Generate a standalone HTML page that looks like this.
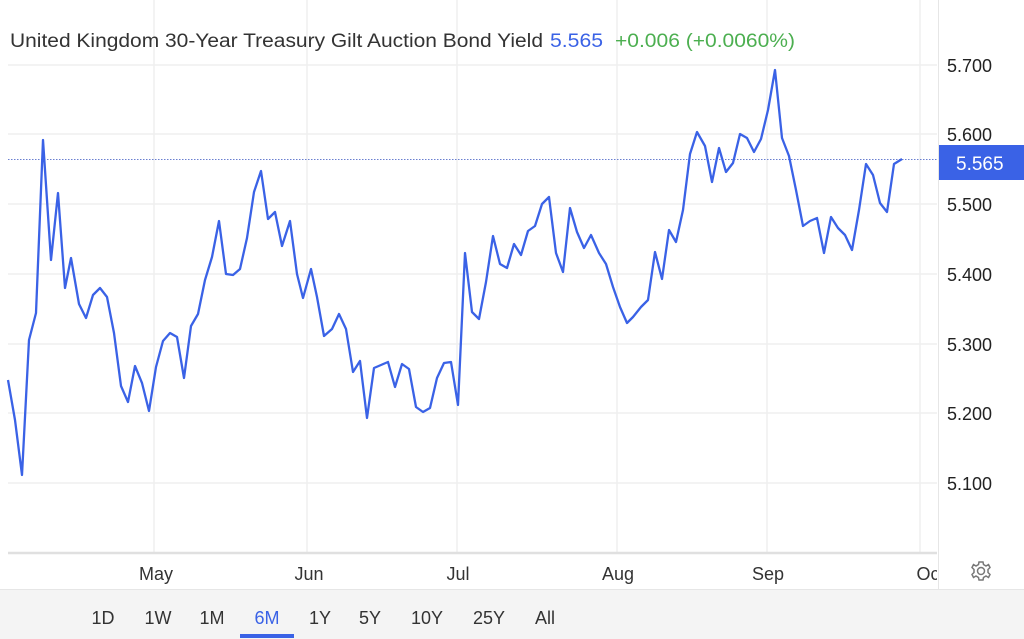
<!DOCTYPE html>
<html><head><meta charset="utf-8"><style>
body{margin:0;width:1024px;height:639px;overflow:hidden;background:#fff;font-family:"Liberation Sans",Arial,sans-serif;}
</style></head><body>
<svg width="1024" height="639" viewBox="0 0 1024 639" xmlns="http://www.w3.org/2000/svg" style="position:absolute;left:0;top:0">
<rect x="0" y="589" width="1024" height="50" fill="#f4f4f4"/>
<line x1="0" y1="589.5" x2="1024" y2="589.5" stroke="#e6e6e6"/>
<g stroke="#efefef" stroke-width="1.5">
<line x1="8" y1="65" x2="937" y2="65"/><line x1="8" y1="134" x2="937" y2="134"/>
<line x1="8" y1="204" x2="937" y2="204"/><line x1="8" y1="274" x2="937" y2="274"/>
<line x1="8" y1="344" x2="937" y2="344"/><line x1="8" y1="413" x2="937" y2="413"/>
<line x1="8" y1="483" x2="937" y2="483"/>
<line x1="154" y1="0" x2="154" y2="553"/><line x1="307" y1="0" x2="307" y2="553"/>
<line x1="457" y1="0" x2="457" y2="553"/><line x1="617" y1="0" x2="617" y2="553"/>
<line x1="767" y1="0" x2="767" y2="553"/><line x1="920" y1="0" x2="920" y2="553"/>
</g>
<line x1="8" y1="553" x2="937" y2="553" stroke="#e0e0e0" stroke-width="2.5"/>
<line x1="938.5" y1="0" x2="938.5" y2="589" stroke="#e6e6e6"/>
<line x1="8" y1="159.5" x2="938" y2="159.5" stroke="#6a7fd0" stroke-width="1" stroke-dasharray="1.5,1.5"/>
<polyline fill="none" stroke="#3a62e6" stroke-width="2.3" stroke-linejoin="round" points="8,380 15,420 22,475 29,340 36,313 43,140 51,260 58,193 65,288 71,258 79,304 86,318 93,295 100,288 107,297 114,333 121,386 128,402 135,366 142,383 149,411 156,367 163,341 170,333 177,337 184,378 191,326 198,314 205,280 212,257 219,221 226,274 233,275 240,269 247,238 254,192 261,171 268,219 275,212 282,246 290,221 297,274 303,298 311,269 317,297 324,336 332,329 339,314 346,329 353,372 360,361 367,418 374,368 381,365 388,362 395,387 402,364 409,369 416,407 423,412 430,408 437,378 444,363 451,362 458,405 465,253 472,312 479,319 486,282 493,236 500,264 507,268 514,244 521,255 528,231 535,226 542,204 549,197 556,253 563,272 570,208 577,232 584,248 591,235 599,253 606,264 613,287 620,307 627,323 633,317 641,307 648,300 655,252 662,279 669,230 676,242 683,210 690,154 697,132 705,146 712,182 719,148 726,172 733,163 740,134 747,138 754,152 761,139 768,110 775,70 782,138 789,156 796,190 803,226 810,221 817,218 824,253 831,217 838,228 845,235 852,250 859,210 866,164 873,175 880,203 887,212 894,164 902,159"/>
<g font-size="19">
<text x="10" y="47" fill="#333" textLength="533" lengthAdjust="spacingAndGlyphs">United Kingdom 30-Year Treasury Gilt Auction Bond Yield</text>
<text x="550" y="47" fill="#3a62e6" textLength="53" lengthAdjust="spacingAndGlyphs">5.565</text>
<text x="615" y="47" fill="#4caf50" textLength="180" lengthAdjust="spacingAndGlyphs">+0.006 (+0.0060%)</text>
</g>
<g font-size="18" fill="#222">
<text x="947" y="72">5.700</text><text x="947" y="141">5.600</text>
<text x="947" y="211">5.500</text><text x="947" y="281">5.400</text>
<text x="947" y="351">5.300</text><text x="947" y="420">5.200</text>
<text x="947" y="490">5.100</text>
</g>
<rect x="939" y="145" width="85" height="35" fill="#3a62e6"/>
<text x="956" y="170" font-size="19" fill="#fff">5.565</text>
<g font-size="18" fill="#333" text-anchor="middle">
<text x="156" y="580">May</text><text x="309" y="580">Jun</text>
<text x="458" y="580">Jul</text><text x="618" y="580">Aug</text>
<text x="768" y="580">Sep</text><text x="928" y="580">Oc</text>
</g>
<rect x="937" y="555" width="87" height="33" fill="#fff"/>
<line x1="938.5" y1="555" x2="938.5" y2="589" stroke="#e6e6e6"/>
<g transform="translate(981,571)" fill="none" stroke="#777" stroke-width="1.5">
<circle r="3.5"/>
<path d="M-2,-9 L2,-9 L2.5,-6.5 L5,-5 L7.5,-6.5 L9,-3.5 L7,-1.5 L7,1.5 L9,3.5 L7.5,6.5 L5,5 L2.5,6.5 L2,9 L-2,9 L-2.5,6.5 L-5,5 L-7.5,6.5 L-9,3.5 L-7,1.5 L-7,-1.5 L-9,-3.5 L-7.5,-6.5 L-5,-5 L-2.5,-6.5 Z"/>
</g>
<g font-size="18" fill="#333" text-anchor="middle">
<text x="103" y="624">1D</text><text x="158" y="624">1W</text><text x="212" y="624">1M</text>
<text x="267" y="624" fill="#3a62e6">6M</text><text x="320" y="624">1Y</text><text x="370" y="624">5Y</text>
<text x="427" y="624">10Y</text><text x="489" y="624">25Y</text><text x="545" y="624">All</text>
</g>
<rect x="240" y="634" width="54" height="4" fill="#3a62e6"/>
</svg>
</body></html>
